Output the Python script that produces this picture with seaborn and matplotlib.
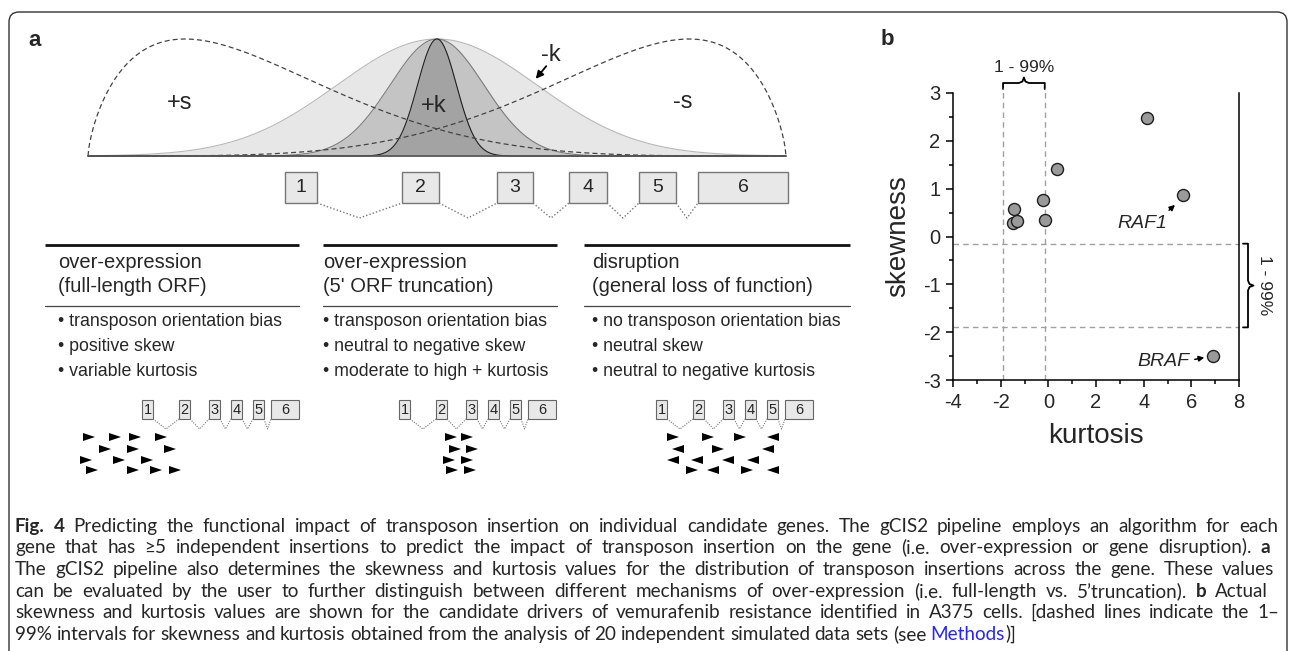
import numpy as np
import matplotlib
matplotlib.use('Agg')
import matplotlib.pyplot as plt
from matplotlib.patches import FancyBboxPatch, Rectangle, Polygon
from matplotlib.ticker import MultipleLocator
import seaborn as sns

W, H = 1292, 651

# ---------------- panel b data ----------------
kurtosis = [4.12, 0.37, 5.65, -0.22, -1.45, -1.47, -1.32, -0.12, 6.93]
skewness = [2.47, 1.41, 0.87, 0.76, 0.57, 0.29, 0.32, 0.35, -2.49]
kurt_limits = [-1.9, -0.15]   # 1-99% interval of simulated kurtosis
skew_limits = [-1.9, -0.15]   # 1-99% interval of simulated skewness
x_ticks = [-4, -2, 0, 2, 4, 6, 8]
y_ticks = [-3, -2, -1, 0, 1, 2, 3]

# ---------------- panel a data ----------------
curve_sd = [100, 47, 19.5]      # -k, normal, +k bell widths
skew_shape = [1.7, 5.34]        # +s / -s curve shape
exon_labels = ['1', '2', '3', '4', '5', '6']
headers = [['over-expression', '(full-length ORF)'],
           ['over-expression', "(5' ORF truncation)"],
           ['disruption', '(general loss of function)']]
bullets = [['transposon orientation bias', 'positive skew', 'variable kurtosis'],
           ['transposon orientation bias', 'neutral to negative skew', 'moderate to high + kurtosis'],
           ['no transposon orientation bias', 'neutral skew', 'neutral to negative kurtosis']]
# insertion positions per row and their orientation
ins_full = [[89, 115, 135, 161], [105, 133, 170], [86, 119, 147], [92, 133, 156, 175]]
ins_trunc = [[451, 467], [455, 472], [449, 467], [452, 470]]
ins_disr = [[673, 708, 740, 773], [678, 718, 768], [673, 697, 728, 753], [692, 713, 747, 773]]
orient_disr = ['>>><', '<><', '<<<<', '><><']

caption_lines = [
    [('Fig. 4', 'b'), (' Predicting the functional impact of transposon insertion on individual candidate genes. '
                       'The gCIS2 pipeline employs an algorithm for each', 'n')],
    [('gene that has \u22655 independent insertions to predict the impact of transposon insertion on the gene '
      '(i.e. over-expression or gene disruption). ', 'n'), ('a', 'b')],
    [('The gCIS2 pipeline also determines the skewness and kurtosis values for the distribution of transposon '
      'insertions across the gene. These values', 'n')],
    [('can be evaluated by the user to further distinguish between different mechanisms of over-expression '
      '(i.e. full-length vs. 5\u2019truncation). ', 'n'), ('b', 'b'), (' Actual', 'n')],
    [('skewness and kurtosis values are shown for the candidate drivers of vemurafenib resistance identified '
      'in A375 cells. [dashed lines indicate the 1\u2013', 'n')],
    [('99% intervals for skewness and kurtosis obtained from the analysis of 20 independent simulated data sets '
      '(see ', 'n'), ('Methods', 'l'), (')]', 'n')],
]

sns.set_style('ticks')
plt.rcParams['font.family'] = ['Liberation Sans', 'DejaVu Sans']
plt.rcParams['axes.unicode_minus'] = False

fig = plt.figure(figsize=(W / 100, H / 100), dpi=100)
ax0 = fig.add_axes([0, 0, 1, 1])
ax0.set_xlim(0, W)
ax0.set_ylim(H, 0)
ax0.axis('off')

# outer frame
ax0.add_patch(FancyBboxPatch((9, 12), 1278, 700, boxstyle='round,pad=0,rounding_size=10',
                             fc='none', ec='#333333', lw=1.0))
ax0.text(28, 46, 'a', fontsize=16, fontweight='bold')
ax0.text(881, 45, 'b', fontsize=16, fontweight='bold')

# ---- distributions ----
xs = np.linspace(88, 786, 800)
base_y, peak_h, centre = 156, 117, 437
fills = ['#e7e7e7', '#c4c4c4', '#a3a3a3']
edges = ['#b8b8b8', '#7c7c7c', '#202020']
for sd, fc, ec in zip(curve_sd, fills, edges):
    yy = base_y - peak_h * np.exp(-0.5 * ((xs - centre) / sd) ** 2)
    ax0.fill_between(xs, base_y, yy, color=fc, lw=0)
    ax0.plot(xs, yy, color=ec, lw=0.8)
t = (xs - 88) / 698
a, b = skew_shape
f = t ** (a - 1) * (1 - t) ** (b - 1)
f = f / f.max()
ax0.plot(xs, base_y - peak_h * f, ls=(0, (4, 2.5)), color='#444444', lw=0.9)
ax0.plot(xs, base_y - peak_h * f[::-1], ls=(0, (4, 2.5)), color='#444444', lw=0.9)
ax0.plot([88, 786], [base_y, base_y], color='#555555', lw=1.2)
ax0.text(180, 103, '+s', fontsize=17, ha='center', va='center')
ax0.text(683, 102, '-s', fontsize=17, ha='center', va='center')
ax0.text(434, 106, '+k', fontsize=17, ha='center', va='center')
ax0.text(551, 55, '-k', fontsize=17, ha='center', va='center')
ax0.annotate('', xy=(534, 81), xytext=(548, 64),
             arrowprops=dict(arrowstyle='-|>', color='k', lw=1.3, mutation_scale=11))

# ---- big gene model ----
ex_l = [285, 402, 497, 569, 639, 698]
ex_r = [317, 439, 533, 607, 676, 788]
for i, lab in enumerate(exon_labels):
    ax0.add_patch(Rectangle((ex_l[i], 172), ex_r[i] - ex_l[i], 31, fc='#e8e8e8', ec='#777777', lw=1))
    ax0.text((ex_l[i] + ex_r[i]) / 2, 188, lab, fontsize=14, ha='center', va='center')
    if i < 5:
        mid = (ex_r[i] + ex_l[i + 1]) / 2
        ax0.plot([ex_r[i], mid, ex_l[i + 1]], [203, 218, 203], ls=(0, (1, 1.5)), color='#777777', lw=1)

# ---- three columns ----
col_line = [(45, 299), (323, 557), (584, 850)]
col_text = [58, 323, 592]
for c in range(3):
    x0, x1 = col_line[c]
    ax0.plot([x0, x1], [245, 245], color='#111111', lw=2.0, solid_capstyle='butt')
    ax0.plot([x0, x1], [306, 306], color='#444444', lw=0.9)
    ax0.text(col_text[c], 268, headers[c][0], fontsize=14.5, va='baseline')
    ax0.text(col_text[c], 292, headers[c][1], fontsize=14.5, va='baseline')
    for j, s in enumerate(bullets[c]):
        ax0.text(col_text[c], 326 + 25 * j, '\u2022 ' + s, fontsize=12.8, va='baseline')

# ---- mini gene models ----
mini_l = [0, 37, 67, 89, 111, 129]
mini_r = [11, 48, 78, 100, 122, 157]
for off in [142, 399, 656]:
    for i, lab in enumerate(exon_labels):
        ax0.add_patch(Rectangle((off + mini_l[i], 400), mini_r[i] - mini_l[i], 19,
                                fc='#e8e8e8', ec='#666666', lw=0.8))
        ax0.text(off + (mini_l[i] + mini_r[i]) / 2, 410, lab, fontsize=10.5, ha='center', va='center')
        if i < 5:
            mid = off + (mini_r[i] + mini_l[i + 1]) / 2
            ax0.plot([off + mini_r[i], mid, off + mini_l[i + 1]], [419, 429, 419],
                     ls=(0, (1, 1.2)), color='#777777', lw=0.8)

rows_y = [437, 449, 460, 470]


def tri(x, y, d):
    if d == '>':
        v = [(x - 6, y - 4), (x + 6, y), (x - 6, y + 4)]
    else:
        v = [(x + 6, y - 4), (x - 6, y), (x + 6, y + 4)]
    ax0.add_patch(Polygon(v, closed=True, fc='black', ec='none'))


for r, y in enumerate(rows_y):
    for x in ins_full[r]:
        tri(x, y, '>')
    for x in ins_trunc[r]:
        tri(x, y, '>')
    for x, d in zip(ins_disr[r], orient_disr[r]):
        tri(x, y, d)

# ---------------- panel b ----------------
axb = fig.add_axes([953 / W, 1 - 380 / H, 286 / W, 287 / H])
sns.scatterplot(x=kurtosis, y=skewness, ax=axb, s=75, color='#9a9a9a', edgecolor='#1e1e1e',
                linewidth=1, zorder=4, legend=False)
axb.set_xlim(-4, 8)
axb.set_ylim(-3, 3)
axb.set_xticks(x_ticks)
axb.set_yticks(y_ticks)
axb.xaxis.set_minor_locator(MultipleLocator(1))
axb.yaxis.set_minor_locator(MultipleLocator(0.5))
axb.spines['top'].set_visible(False)
axb.spines['right'].set_visible(True)
for sp in ['left', 'bottom', 'right']:
    axb.spines[sp].set_linewidth(1.1)
    axb.spines[sp].set_color('black')
axb.tick_params(which='both', bottom=True, left=True, top=False, right=False)
axb.tick_params(which='major', direction='out', length=5, width=1.1, labelsize=14.5, color='black')
axb.tick_params(which='minor', direction='out', length=3, width=1.1, color='black')
axb.tick_params(axis='x', which='major', pad=4)
axb.tick_params(axis='y', which='major', pad=4)
axb.set_xlabel('kurtosis', fontsize=20, labelpad=8)
axb.set_ylabel('skewness', fontsize=20, labelpad=8)

dash = (0, (4, 3))
for xv in kurt_limits:
    axb.plot([xv, xv], [-3, 3.11], ls=dash, color='#a0a0a0', lw=1, clip_on=False, zorder=1)
for yv in skew_limits:
    axb.plot([-4, 8], [yv, yv], ls=dash, color='#a0a0a0', lw=1, clip_on=False, zorder=1)

axb.text(3.93, 0.28, 'RAF1', fontsize=14, fontstyle='italic', ha='center', va='center')
axb.annotate('', xy=(5.40, 0.70), xytext=(4.98, 0.51),
             arrowprops=dict(arrowstyle='-|>', color='k', lw=1.1, mutation_scale=8))
axb.text(4.81, -2.62, 'BRAF', fontsize=14, fontstyle='italic', ha='center', va='center')
axb.annotate('', xy=(6.66, -2.52), xytext=(6.03, -2.58),
             arrowprops=dict(arrowstyle='-|>', color='k', lw=1.1, mutation_scale=8))


def to_px(x, y):
    return ax0.transData.inverted().transform(axb.transData.transform((x, y)))


bx0 = to_px(kurt_limits[0], 3)[0]
bx1 = to_px(kurt_limits[1], 3)[0]
bxm = (bx0 + bx1) / 2
ax0.plot([bx0, bx0, bxm - 5, bxm - 1.5, bxm, bxm + 1.5, bxm + 5, bx1, bx1],
         [89, 83, 83, 81.5, 77.5, 81.5, 83, 83, 89], color='black', lw=1.3)
ax0.text(bxm, 68, '1 - 99%', fontsize=12.5, ha='center', va='center')

by0 = to_px(8, skew_limits[1])[1]
by1 = to_px(8, skew_limits[0])[1]
bym = (by0 + by1) / 2
ax0.plot([1243, 1248, 1248, 1249.5, 1253.5, 1249.5, 1248, 1248, 1243],
         [by0, by0, bym - 5, bym - 1.5, bym, bym + 1.5, bym + 5, by1, by1], color='black', lw=1.3)
ax0.text(1265, bym, '1 - 99%', fontsize=12.5, ha='center', va='center', rotation=-90)

# ---------------- caption ----------------
renderer = fig.canvas.get_renderer()
cap_font = ['Lato', 'DejaVu Sans']
cap_size = 13.6
cap_styles = {'n': {}, 'b': {'fontweight': 'bold'}, 'l': {'color': '#2525ff'}}
cap_y = [532, 553, 575, 597, 618, 640]
cap_right = [1278, 1270, 1274, 1268, 1279, None]
for segs, base, right in zip(caption_lines, cap_y, cap_right):
    words = [[]]
    for txt, st in segs:
        for i, piece in enumerate(txt.split(' ')):
            if i > 0:
                words.append([])
            if piece:
                words[-1].append((piece, st))
    words = [w for w in words if w]
    arts, total = [], 0
    for w in words:
        row = []
        for piece, st in w:
            tx = ax0.text(0, base, piece, fontsize=cap_size, family=cap_font, va='baseline',
                          ha='left', **cap_styles[st])
            wd = tx.get_window_extent(renderer).width
            row.append((tx, wd))
            total += wd
        arts.append(row)
    gap = (right - 15 - total) / (len(words) - 1) if right else 4.5
    x = 15
    for row in arts:
        for tx, wd in row:
            tx.set_x(x)
            x += wd
        x += gap

fig.savefig('out.png', dpi=100)
